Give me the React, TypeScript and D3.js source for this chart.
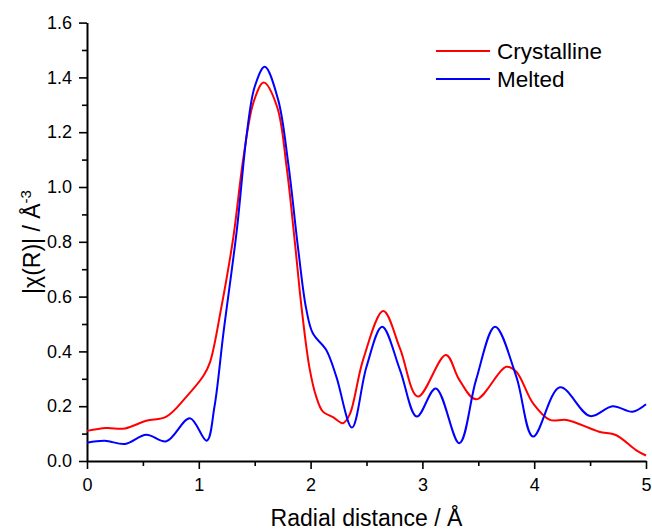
import React, { useEffect, useRef } from 'react';
import * as d3 from 'd3';

// Crystalline |chi(R)|
const crystR = [0, 0.17, 0.34, 0.53, 0.71, 0.89, 1.04, 1.10, 1.20, 1.31, 1.40, 1.49, 1.58, 1.70, 1.785, 1.86, 1.92, 1.99, 2.05, 2.11, 2.20, 2.29, 2.35, 2.47, 2.65, 2.80, 2.96, 3.21, 3.33, 3.48, 3.75, 3.84, 3.99, 4.14, 4.29, 4.58, 4.73, 4.91, 5.0];
const crystChi = [0.11, 0.12, 0.119, 0.147, 0.162, 0.235, 0.31, 0.36, 0.557, 0.82, 1.11, 1.31, 1.381, 1.293, 1.074, 0.795, 0.557, 0.34, 0.235, 0.18, 0.16, 0.138, 0.17, 0.37, 0.547, 0.41, 0.235, 0.387, 0.296, 0.225, 0.344, 0.326, 0.21, 0.15, 0.15, 0.107, 0.095, 0.04, 0.02];

// Melted |chi(R)|
const meltR = [0, 0.16, 0.34, 0.53, 0.71, 0.92, 1.07, 1.14, 1.22, 1.34, 1.43, 1.50, 1.59, 1.71, 1.80, 1.89, 1.96, 2.02, 2.14, 2.23, 2.37, 2.50, 2.64, 2.80, 2.95, 3.12, 3.33, 3.48, 3.65, 3.84, 3.99, 4.23, 4.50, 4.70, 4.88, 5.0];
const meltChi = [0.067, 0.074, 0.062, 0.096, 0.072, 0.156, 0.074, 0.198, 0.466, 0.843, 1.197, 1.366, 1.439, 1.318, 1.086, 0.77, 0.557, 0.466, 0.405, 0.308, 0.122, 0.344, 0.49, 0.332, 0.162, 0.265, 0.065, 0.296, 0.49, 0.308, 0.089, 0.269, 0.164, 0.20, 0.18, 0.207];

const xMajor = [0, 1, 2, 3, 4, 5];
const xMinor = [0.5, 1.5, 2.5, 3.5, 4.5];
const yMajor = [0, 0.2, 0.4, 0.6, 0.8, 1.0, 1.2, 1.4, 1.6];
const yMinor = [0.1, 0.3, 0.5, 0.7, 0.9, 1.1, 1.3, 1.5];

const seriesNames = ['Crystalline', 'Melted'];
const seriesColors = ['#ff0000', '#0000ff'];

const FONT = '"Liberation Sans", Arial, sans-serif';

export default function App() {
  const ref = useRef<SVGSVGElement>(null);

  useEffect(() => {
    const width = 652;
    const height = 531;
    const m = { left: 87, right: 6, top: 22.6, bottom: 70 };

    const svg = d3.select(ref.current);
    svg.selectAll('*').remove();

    const x = d3.scaleLinear().domain([0, 5]).range([m.left, width - m.right]);
    const y = d3.scaleLinear().domain([0, 1.6]).range([height - m.bottom, m.top]);

    // minor ticks first
    svg.append('g')
      .attr('transform', 'translate(0,' + (height - m.bottom) + ')')
      .call(d3.axisBottom(x).tickValues(xMinor).tickSize(5).tickFormat(() => ''))
      .call(g => g.select('.domain').remove());
    svg.append('g')
      .attr('transform', 'translate(' + m.left + ',0)')
      .call(d3.axisLeft(y).tickValues(yMinor).tickSize(5).tickFormat(() => ''))
      .call(g => g.select('.domain').remove());

    const xAxis = svg.append('g')
      .attr('transform', 'translate(0,' + (height - m.bottom) + ')')
      .call(d3.axisBottom(x).tickValues(xMajor).tickSize(8).tickSizeOuter(0).tickPadding(9).tickFormat(d3.format('d')));
    const yAxis = svg.append('g')
      .attr('transform', 'translate(' + m.left + ',0)')
      .call(d3.axisLeft(y).tickValues(yMajor).tickSize(8).tickSizeOuter(0).tickPadding(7).tickFormat(d3.format('.1f')));

    svg.selectAll('.tick line').attr('stroke', '#000').attr('stroke-width', 1.6);
    [xAxis, yAxis].forEach(a => {
      a.select('.domain').attr('stroke', '#000').attr('stroke-width', 2);
      a.selectAll('text').attr('font-family', FONT).attr('font-size', 18).attr('fill', '#000');
    });

    // curves
    const line = d3.line<[number, number]>()
      .x(d => x(d[0]))
      .y(d => y(d[1]))
      .curve(d3.curveCatmullRom.alpha(0.5));

    const series: [number, number][][] = [
      crystR.map((r, i) => [r, crystChi[i]]),
      meltR.map((r, i) => [r, meltChi[i]]),
    ];

    svg.append('g')
      .selectAll('path')
      .data(series)
      .enter()
      .append('path')
      .attr('d', d => line(d))
      .attr('fill', 'none')
      .attr('stroke', (d, i) => seriesColors[i])
      .attr('stroke-width', 2);

    // legend
    const lg = svg.append('g');
    seriesNames.forEach((name, i) => {
      const ly = 51 + i * 28;
      lg.append('line')
        .attr('x1', 436).attr('x2', 490)
        .attr('y1', ly).attr('y2', ly)
        .attr('stroke', seriesColors[i]).attr('stroke-width', 2);
      lg.append('text')
        .attr('x', 497).attr('y', ly + 8)
        .attr('font-family', FONT).attr('font-size', 22.5)
        .text(name);
    });

    // axis titles
    svg.append('text')
      .attr('x', (m.left + width - m.right) / 2)
      .attr('y', 526)
      .attr('text-anchor', 'middle')
      .attr('font-family', FONT).attr('font-size', 23)
      .text('Radial distance / Å');

    const yt = svg.append('text')
      .attr('transform', 'translate(40,242) rotate(-90)')
      .attr('text-anchor', 'middle')
      .attr('font-family', FONT).attr('font-size', 23);
    yt.append('tspan').text('|χ(R)| / Å');
    yt.append('tspan').attr('dy', -9).attr('font-size', 15).text('-3');
  }, []);

  return (
    <div style={{ position: 'absolute', left: 0, top: 0 }}>
      <svg ref={ref} width={652} height={531} style={{ display: 'block', background: '#fff' }} />
    </div>
  );
}
